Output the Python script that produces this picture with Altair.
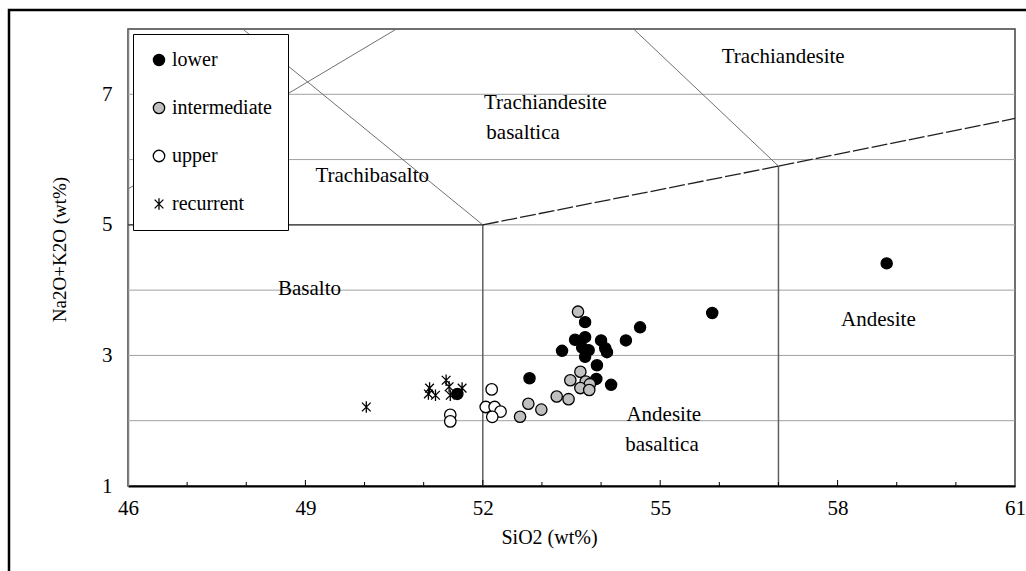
import altair as alt
import pandas as pd

SERIF = "Liberation Serif"
SERIES = ["lower", "intermediate", "upper", "recurrent"]

# ---- data (SiO2 wt%, Na2O+K2O wt%) ----
lower_x = [51.57, 52.79, 53.34, 53.56, 53.73, 53.73, 53.68, 53.79, 53.73, 54.00,
           54.07, 54.10, 53.93, 53.92, 54.17, 54.42, 54.66, 55.88, 58.83]
lower_y = [2.41, 2.65, 3.07, 3.24, 3.51, 3.28, 3.12, 3.08, 2.98, 3.23,
           3.11, 3.05, 2.85, 2.64, 2.55, 3.23, 3.43, 3.65, 4.41]
inter_x = [53.61, 53.65, 53.48, 53.74, 53.81, 53.65, 53.80, 53.25, 53.45, 52.77, 52.99, 52.63]
inter_y = [3.67, 2.75, 2.62, 2.60, 2.56, 2.50, 2.47, 2.37, 2.33, 2.26, 2.17, 2.06]
upper_x = [52.15, 52.05, 52.20, 52.30, 52.16, 51.45, 51.45]
upper_y = [2.48, 2.21, 2.21, 2.14, 2.06, 2.09, 1.99]
rec_x = [50.03, 51.10, 51.08, 51.20, 51.38, 51.43, 51.45, 51.65]
rec_y = [2.21, 2.50, 2.41, 2.39, 2.62, 2.52, 2.39, 2.50]

# axis values
x_labels = [46, 49, 52, 55, 58, 61]
x_ticks_major = [49, 52, 55, 58]
x_ticks_minor = [47, 48, 50, 51, 53, 54, 56, 57, 59, 60]
y_labels = [1, 3, 5, 7]
y_grid = [2, 3, 4, 5, 6, 7]

# TAS field boundaries
vert_x1 = [52, 57]
vert_y1 = [1, 1]
vert_x2 = [52, 57]
vert_y2 = [5, 5.9]
thin_x1 = [52, 46, 57]
thin_y1 = [5, 5.55, 5.9]
thin_x2 = [47.94, 50.54, 54.55]
thin_y2 = [8.0, 8.0, 8.0]
dark_x1 = [46]
dark_y1 = [5]
dark_x2 = [52]
dark_y2 = [5]
dash_x1 = [52, 57]
dash_y1 = [5.0, 5.9]
dash_x2 = [57, 61]
dash_y2 = [5.9, 6.63]

# field names
lab_c_text = ["Trachiandesite", "Trachibasalto", "Basalto", "Andesite", "Andesite", "basaltica"]
lab_c_x = [57.08, 50.13, 49.07, 58.69, 55.06, 55.03]
lab_c_y = [7.57, 5.75, 4.02, 3.54, 2.09, 1.63]
lab_l_text = ["Trachiandesite", "basaltica"]
lab_l_x = [52.02, 52.06]
lab_l_y = [6.87, 6.41]

ASTER = "M0,-1L0,1M-0.75,-0.75L0.75,0.75M-0.75,0.75L0.75,-0.75"

W, H = 887, 457

xs = alt.Scale(domain=[46, 61], nice=False, zero=False)
ys = alt.Scale(domain=[1, 8], nice=False, zero=False)
x_axis = alt.Axis(values=x_labels, grid=False, ticks=False, domainColor="black", domainWidth=2,
                  labelPadding=11, labelFlush=False, title="SiO2 (wt%)", titlePadding=9, titleX=421)
y_axis = alt.Axis(values=y_labels, grid=False, ticks=False, domainColor="#808080", domainWidth=1.5,
                  labelPadding=16, labelFlush=False, title="Na2O+K2O (wt%)", titlePadding=32,
                  titleY=220, titleFontSize=19)

def X(f):
    return alt.X(f, type="quantitative", scale=xs, axis=x_axis)

def Y(f):
    return alt.Y(f, type="quantitative", scale=ys, axis=y_axis)

# outer frame (decoration)
frame = alt.Chart(pd.DataFrame({"a": [0]})).mark_rect(
    fillOpacity=0, stroke="black", strokeWidth=2.5
).encode(x=alt.value(-119), x2=alt.value(960), y=alt.value(-19), y2=alt.value(620))

grid = alt.Chart(pd.DataFrame({"g": y_grid})).mark_rule(color="#a0a0a0", strokeWidth=1).encode(
    y=Y("g"))

def segs(x1, y1, x2, y2):
    return pd.DataFrame({"x1": x1, "y1": y1, "x2": x2, "y2": y2})

vert = alt.Chart(segs(vert_x1, vert_y1, vert_x2, vert_y2)).mark_rule(
    color="#606060", strokeWidth=1.5).encode(x=X("x1"), y=Y("y1"), x2="x2", y2="y2")
thin = alt.Chart(segs(thin_x1, thin_y1, thin_x2, thin_y2)).mark_rule(
    color="#707070", strokeWidth=1).encode(x=X("x1"), y=Y("y1"), x2="x2", y2="y2")
dark = alt.Chart(segs(dark_x1, dark_y1, dark_x2, dark_y2)).mark_rule(
    color="#303030", strokeWidth=1.3).encode(x=X("x1"), y=Y("y1"), x2="x2", y2="y2")
dash = alt.Chart(segs(dash_x1, dash_y1, dash_x2, dash_y2)).mark_rule(
    color="#202020", strokeWidth=1.3, strokeDash=[16, 3]).encode(x=X("x1"), y=Y("y1"), x2="x2", y2="y2")

tick_major = alt.Chart(pd.DataFrame({"t": x_ticks_major})).mark_rule(color="black", strokeWidth=1).encode(
    x=X("t"), y=alt.value(H), y2=alt.value(H - 6))
tick_minor = alt.Chart(pd.DataFrame({"t": x_ticks_minor})).mark_rule(color="black", strokeWidth=1).encode(
    x=X("t"), y=alt.value(H), y2=alt.value(H - 4))

lab_c = alt.Chart(pd.DataFrame({"t": lab_c_text, "x": lab_c_x, "y": lab_c_y})).mark_text(
    font=SERIF, fontSize=21, color="black", align="center", baseline="middle").encode(
    x=X("x"), y=Y("y"), text="t")
lab_l = alt.Chart(pd.DataFrame({"t": lab_l_text, "x": lab_l_x, "y": lab_l_y})).mark_text(
    font=SERIF, fontSize=21, color="black", align="left", baseline="middle").encode(
    x=X("x"), y=Y("y"), text="t")

pts = pd.DataFrame({
    "SiO2": lower_x + inter_x + upper_x + rec_x,
    "alk": lower_y + inter_y + upper_y + rec_y,
    "series": ["lower"] * len(lower_x) + ["intermediate"] * len(inter_x)
              + ["upper"] * len(upper_x) + ["recurrent"] * len(rec_x),
})

leg = alt.Legend(title=None, orient="none", legendX=5, legendY=5, direction="vertical",
                 fillColor="white", strokeColor="black", padding=16, rowPadding=28,
                 labelFont=SERIF, labelFontSize=20, labelColor="black", labelOffset=3,
                 symbolStrokeWidth=1.3)

points = alt.Chart(pts).mark_point(filled=True, strokeWidth=1.3, opacity=1).encode(
    x=X("SiO2"), y=Y("alk"),
    shape=alt.Shape("series:N", scale=alt.Scale(domain=SERIES, range=["circle", "circle", "circle", ASTER]), legend=leg),
    fill=alt.Fill("series:N", scale=alt.Scale(domain=SERIES, range=["#000000", "#c0c0c0", "#ffffff", "transparent"]), legend=leg),
    stroke=alt.Stroke("series:N", scale=alt.Scale(domain=SERIES, range=["#000000", "#000000", "#000000", "#000000"]), legend=leg),
    size=alt.Size("series:N", scale=alt.Scale(domain=SERIES, range=[125, 135, 60, 100]), legend=leg),
)

chart = alt.layer(frame, grid, vert, thin, dark, dash, tick_major, tick_minor, lab_c, lab_l, points).properties(
    width=W, height=H,
    autosize=alt.AutoSizeParams(type="none"),
    padding={"left": 128, "top": 29, "right": 11, "bottom": 85},
    background="white",
).configure_view(
    stroke="#404040", strokeWidth=1.5
).configure_axis(
    labelFont=SERIF, labelFontSize=21, labelColor="black",
    titleFont=SERIF, titleFontSize=20, titleFontWeight="normal", titleColor="black",
)

chart.save("out.html", embed_options={"renderer": "svg", "actions": False})
